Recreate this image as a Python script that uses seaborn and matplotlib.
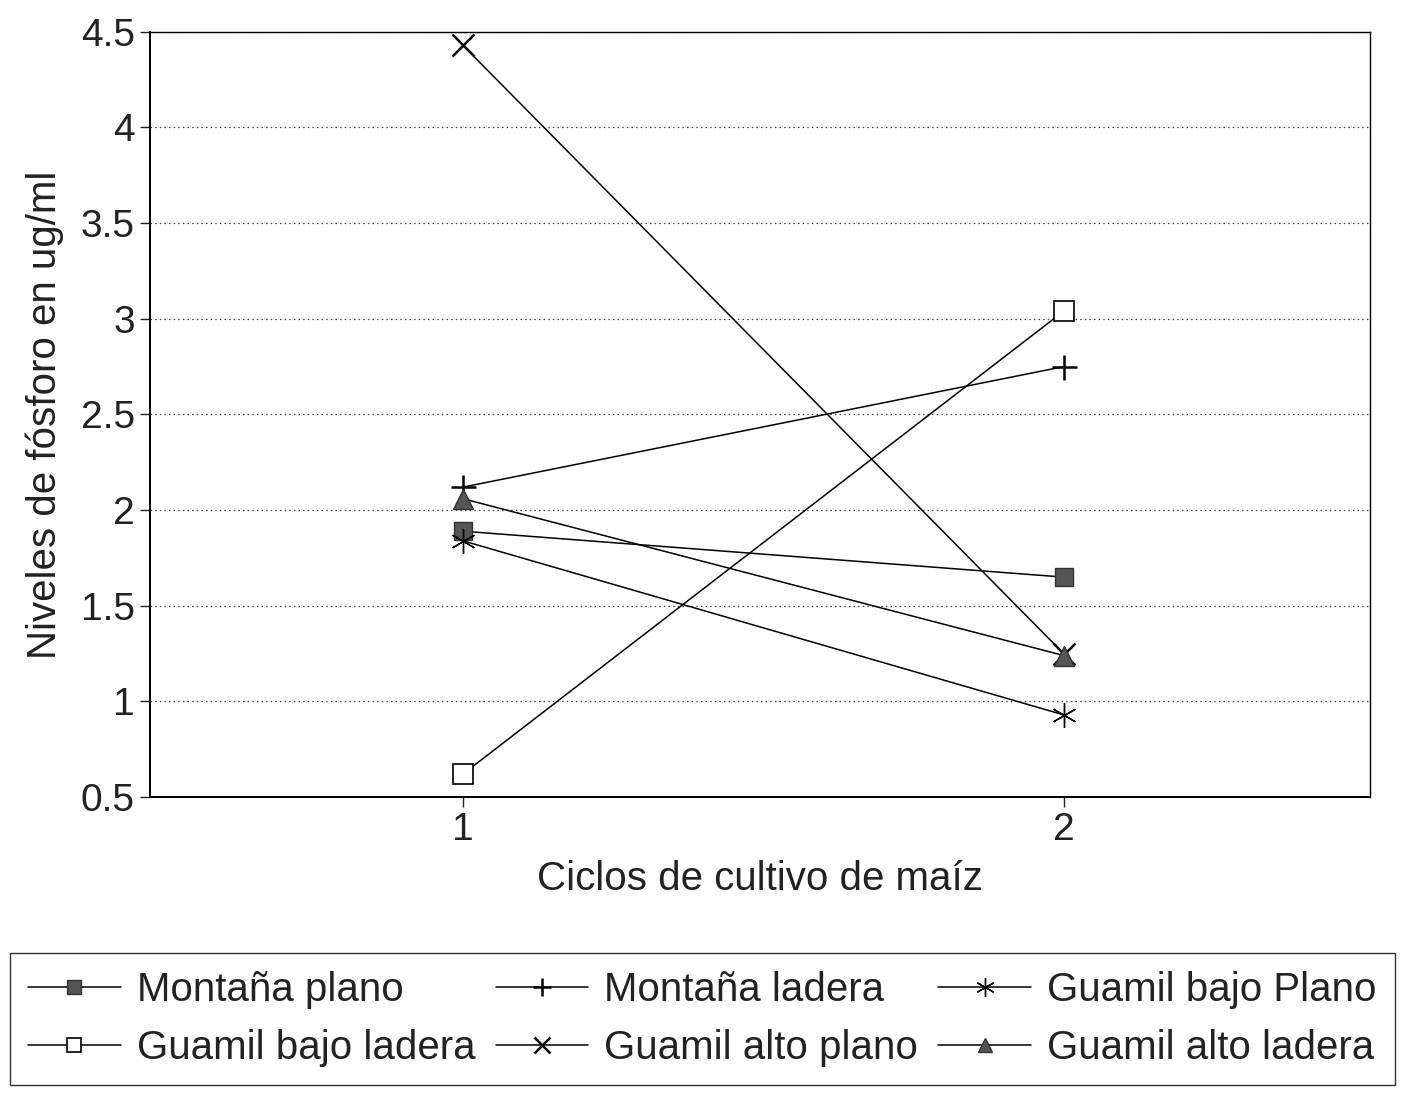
import pandas as pd
import seaborn as sns
import matplotlib.pyplot as plt
from matplotlib.lines import Line2D

# Data
ciclos = [1, 2]
montana_plano = [1.89, 1.65]
montana_ladera = [2.12, 2.75]
guamil_bajo_plano = [1.84, 0.93]
guamil_bajo_ladera = [0.62, 3.04]
guamil_alto_plano = [4.43, 1.25]
guamil_alto_ladera = [2.06, 1.24]

series = [
    ("Montaña plano", montana_plano, dict(marker="s", mfc="#555555", mec="#333333", ms=13)),
    ("Montaña ladera", montana_ladera, dict(marker="+", mfc="k", mec="k", ms=18, mew=1.8)),
    ("Guamil bajo Plano", guamil_bajo_plano, dict(marker=(6, 2, 0), mfc="k", mec="k", ms=18, mew=1.0)),
    ("Guamil bajo ladera", guamil_bajo_ladera, dict(marker="s", mfc="white", mec="k", ms=14, mew=1.2)),
    ("Guamil alto plano", guamil_alto_plano, dict(marker="x", mfc="k", mec="k", ms=16, mew=1.8)),
    ("Guamil alto ladera", guamil_alto_ladera, dict(marker="^", mfc="#555555", mec="#333333", ms=14)),
]

sns.set_style("white")
plt.rcParams["font.family"] = ["Liberation Sans", "DejaVu Sans"]

fig = plt.figure(figsize=(14.17, 10.95), dpi=100)
ax = fig.add_axes([0.106, 0.272, 0.861, 0.699])

handles = []
for name, vals, style in series:
    df = pd.DataFrame({"ciclo": ciclos, "valor": vals})
    sns.lineplot(data=df, x="ciclo", y="valor", color="k", lw=1.1, ax=ax,
                 markeredgecolor=style["mec"], markerfacecolor=style["mfc"],
                 marker=style["marker"], markersize=style["ms"],
                 markeredgewidth=style.get("mew", 1.0))
    handles.append(Line2D([], [], color="k", lw=1.1, marker=style["marker"],
                          mfc=style["mfc"], mec=style["mec"],
                          ms=style["ms"] * 0.75, mew=style.get("mew", 1.0)))

ax.set_xlim(0.48, 2.51)
ax.set_ylim(0.5, 4.5)
ax.set_xticks([1, 2])
ax.set_yticks([0.5, 1, 1.5, 2, 2.5, 3, 3.5, 4, 4.5])
ax.set_yticklabels(["0.5", "1", "1.5", "2", "2.5", "3", "3.5", "4", "4.5"])
ax.yaxis.grid(True, linestyle=(0, (1.2, 2.5)), color="#444444", lw=0.9)
ax.xaxis.grid(False)
for s in ax.spines.values():
    s.set_color("k")
    s.set_linewidth(1.0)
ax.spines["left"].set_linewidth(1.4)
ax.spines["bottom"].set_linewidth(1.4)
ax.tick_params(axis="both", labelsize=28, direction="out", length=7, width=1.0,
               colors="#222222", left=True, bottom=True, pad=4)
ax.set_xlabel("Ciclos de cultivo de maíz", fontsize=29, labelpad=8, color="#222222")
ax.set_ylabel("Niveles de fósforo en ug/ml", fontsize=29, labelpad=12, color="#222222")

# legend filled row-wise like the original
order = [0, 3, 1, 4, 2, 5]
leg = fig.legend([handles[i] for i in order], [series[i][0] for i in order],
                 loc="upper left", bbox_to_anchor=(0.007, 0.13), ncol=3,
                 fontsize=29, frameon=True, fancybox=False, edgecolor="k",
                 handlelength=2.3, handletextpad=0.4, columnspacing=0.5,
                 labelspacing=0.5, borderpad=0.45, borderaxespad=0)
leg.get_frame().set_linewidth(1.0)
for t in leg.get_texts():
    t.set_color("#222222")

fig.savefig("out.png", dpi=100)
